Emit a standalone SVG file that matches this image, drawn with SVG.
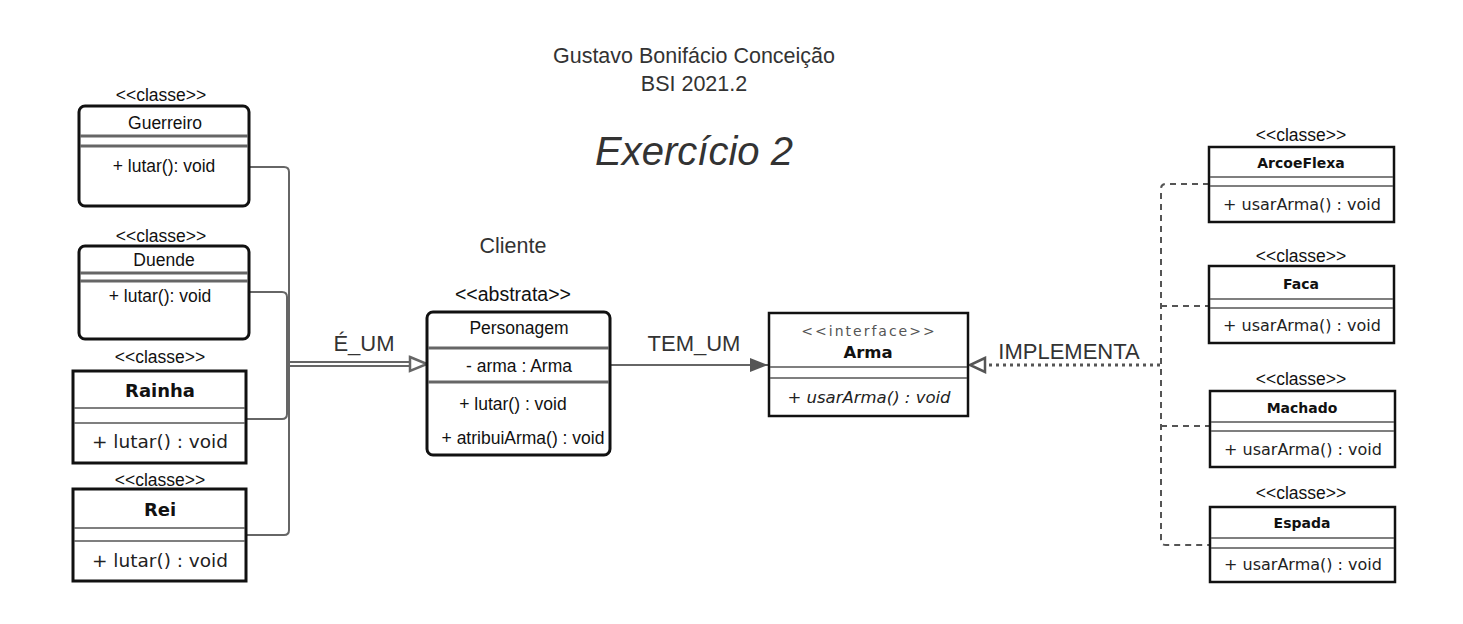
<svg xmlns="http://www.w3.org/2000/svg" width="1463" height="624" viewBox="0 0 1463 624">
<style>
  text { font-family: "Liberation Sans", Arial, sans-serif; fill: #333; }
  .st { font-size: 17.5px; text-anchor: middle; fill: #111; }
  .lbl { font-size: 22px; text-anchor: middle; fill: #333; }
  .hdr { font-size: 21.5px; text-anchor: middle; fill: #333; }
  .box { fill: #fff; stroke: #111; stroke-width: 3; }
  .ibox { fill: #fff; stroke: #111; stroke-width: 2.5; }
  .sep { stroke: #666; stroke-width: 3; }
  .isep { stroke: #555; stroke-width: 1.6; }
  .dj { font-family: "DejaVu Sans", sans-serif; text-anchor: middle; fill: #222; }
  .djb { font-family: "DejaVu Sans", sans-serif; font-weight: bold; text-anchor: middle; fill: #111; }
  .conn { fill: none; stroke: #666; stroke-width: 2; }
  .dash { fill: none; stroke: #555; stroke-width: 2; stroke-dasharray: 6 5; }
</style>
<defs>
  <marker id="filled" markerWidth="20" markerHeight="14" refX="18" refY="7" orient="auto" markerUnits="userSpaceOnUse">
    <path d="M0,0 L18,7 L0,14 Z" fill="#555"/>
  </marker>
</defs>

<g id="title">
  <text class="hdr" x="694" y="63">Gustavo Bonifácio Conceição</text>
  <text class="hdr" x="694" y="91">BSI 2021.2</text>
  <text x="694" y="165" style="font-size:40px;font-style:italic;text-anchor:middle;fill:#333">Exercício 2</text>
</g>

<g id="connectors">
  <path class="conn" d="M249,167 H284 Q289,167 289,172 V530 Q289,535 284,535 H246"/>
  <path class="conn" d="M249,292 H282 Q287,292 287,297 V414 Q287,419 282,419 H246"/>
  <path class="conn" d="M289,362 H414 M289,366 H414"/>
  <path d="M410,357 L427,364 L410,371 Z" fill="#fff" stroke="#666" stroke-width="2.5"/>
  <path class="conn" d="M610,365 H768" marker-end="url(#filled)"/>
  <path d="M1160,365 H985" fill="none" stroke="#555" stroke-width="3" stroke-dasharray="3 4"/>
  <path d="M985,358 L970,365 L985,372 Z" fill="#fff" stroke="#555" stroke-width="2.5"/>
  <path class="dash" d="M1209,184 H1166 Q1161,184 1161,189 V540 Q1161,545 1166,545 H1209"/>
  <path class="dash" d="M1161,306 H1209 M1161,426 H1209"/>
  <text class="lbl" x="364" y="351">É_UM</text>
  <text class="lbl" x="694" y="351">TEM_UM</text>
  <text class="lbl" x="1069" y="359">IMPLEMENTA</text>
</g>

<g id="guerreiro">
  <text class="st" x="161" y="101">&lt;&lt;classe&gt;&gt;</text>
  <rect class="box" x="79" y="106" width="170" height="100" rx="6"/>
  <line class="sep" x1="80" y1="136" x2="248" y2="136"/>
  <line class="sep" x1="80" y1="146" x2="248" y2="146"/>
  <text class="st" x="165" y="129">Guerreiro</text>
  <text class="st" x="164" y="172">+ lutar(): void</text>
</g>

<g id="duende">
  <text class="st" x="161" y="242">&lt;&lt;classe&gt;&gt;</text>
  <rect class="box" x="79" y="246" width="170" height="93" rx="6"/>
  <line class="sep" x1="80" y1="273" x2="248" y2="273"/>
  <line class="sep" x1="80" y1="281" x2="248" y2="281"/>
  <text class="st" x="164" y="266">Duende</text>
  <text class="st" x="160" y="302">+ lutar(): void</text>
</g>

<g id="rainha">
  <text class="st" x="160" y="363">&lt;&lt;classe&gt;&gt;</text>
  <rect class="box" x="73" y="371" width="173" height="92"/>
  <line class="isep" x1="74" y1="408" x2="245" y2="408"/>
  <line class="isep" x1="74" y1="423" x2="245" y2="423"/>
  <text class="djb" x="160" y="397" font-size="18">Rainha</text>
  <text class="dj" x="160" y="448" font-size="18.5">+ lutar() : void</text>
</g>

<g id="rei">
  <text class="st" x="160" y="486">&lt;&lt;classe&gt;&gt;</text>
  <rect class="box" x="73" y="489" width="173" height="92"/>
  <line class="isep" x1="74" y1="528" x2="245" y2="528"/>
  <line class="isep" x1="74" y1="541" x2="245" y2="541"/>
  <text class="djb" x="160" y="516" font-size="18">Rei</text>
  <text class="dj" x="160" y="567" font-size="18.5">+ lutar() : void</text>
</g>

<g id="personagem">
  <text x="513" y="253" style="font-size:21.5px;text-anchor:middle;fill:#333">Cliente</text>
  <text class="st" x="513" y="301" style="font-size:19.5px">&lt;&lt;abstrata&gt;&gt;</text>
  <rect class="box" x="427" y="312" width="183" height="143" rx="6"/>
  <line class="sep" x1="428" y1="348" x2="609" y2="348"/>
  <line class="sep" x1="428" y1="382" x2="609" y2="382"/>
  <text class="st" x="519" y="334">Personagem</text>
  <text class="st" x="519" y="372">- arma : Arma</text>
  <text class="st" x="513" y="410">+ lutar() : void</text>
  <text class="st" x="523" y="444">+ atribuiArma() : void</text>
</g>

<g id="arma">
  <rect class="ibox" x="769" y="313" width="199" height="103"/>
  <line class="isep" x1="770" y1="367" x2="967" y2="367"/>
  <line class="isep" x1="770" y1="378" x2="967" y2="378"/>
  <text class="dj" x="869" y="336" font-size="14" letter-spacing="2" style="fill:#555">&lt;&lt;interface&gt;&gt;</text>
  <text class="djb" x="868" y="358" font-size="16.5">Arma</text>
  <text class="dj" x="869" y="403" font-size="16.5" font-style="italic">+ usarArma() : void</text>
</g>

<g id="arcoeflexa">
  <text class="st" x="1301" y="141">&lt;&lt;classe&gt;&gt;</text>
  <rect class="ibox" x="1209" y="147" width="185" height="75"/>
  <line class="isep" x1="1210" y1="177" x2="1393" y2="177"/>
  <line class="isep" x1="1210" y1="186" x2="1393" y2="186"/>
  <text class="djb" x="1301" y="168" font-size="14">ArcoeFlexa</text>
  <text class="dj" x="1302" y="210" font-size="16">+ usarArma() : void</text>
</g>

<g id="faca">
  <text class="st" x="1301" y="262">&lt;&lt;classe&gt;&gt;</text>
  <rect class="ibox" x="1209" y="266" width="185" height="77"/>
  <line class="isep" x1="1210" y1="299" x2="1393" y2="299"/>
  <line class="isep" x1="1210" y1="308" x2="1393" y2="308"/>
  <text class="djb" x="1301" y="289" font-size="14">Faca</text>
  <text class="dj" x="1302" y="331" font-size="16">+ usarArma() : void</text>
</g>

<g id="machado">
  <text class="st" x="1301" y="385">&lt;&lt;classe&gt;&gt;</text>
  <rect class="ibox" x="1210" y="391" width="185" height="76"/>
  <line class="isep" x1="1211" y1="422" x2="1394" y2="422"/>
  <line class="isep" x1="1211" y1="431" x2="1394" y2="431"/>
  <text class="djb" x="1302" y="413" font-size="14">Machado</text>
  <text class="dj" x="1303" y="455" font-size="16">+ usarArma() : void</text>
</g>

<g id="espada">
  <text class="st" x="1301" y="499">&lt;&lt;classe&gt;&gt;</text>
  <rect class="ibox" x="1210" y="507" width="185" height="75"/>
  <line class="isep" x1="1211" y1="538" x2="1394" y2="538"/>
  <line class="isep" x1="1211" y1="548" x2="1394" y2="548"/>
  <text class="djb" x="1302" y="528" font-size="14">Espada</text>
  <text class="dj" x="1303" y="570" font-size="16">+ usarArma() : void</text>
</g>
</svg>
